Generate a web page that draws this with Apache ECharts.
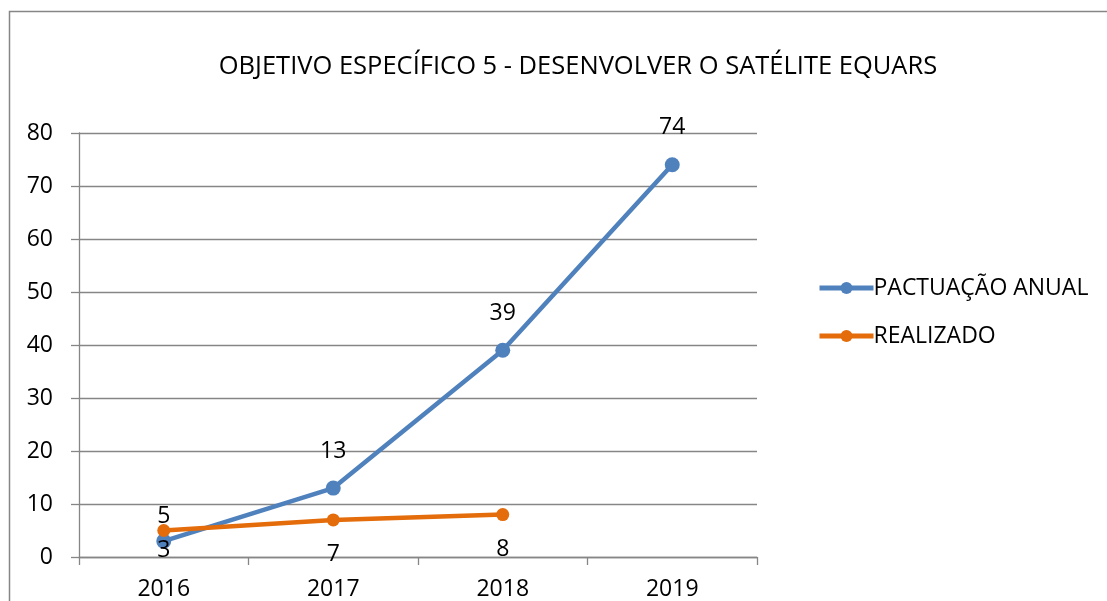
<!DOCTYPE html>
<html lang="pt">
<head>
    <meta charset="utf-8" />
    <title>Objetivo específico 5</title>
    <script type="text/javascript" src="https://cdn.jsdelivr.net/npm/echarts@6/dist/echarts.min.js"></script>
    <style type="text/css">
        html, body { margin: 0; padding: 0; background: #fff; }
    </style>
</head>
<body>
    <div id="main" style="width:1107px;height:601px;"></div>

    <script type="text/javascript">
        // dados
        var anos = ['2016', '2017', '2018', '2019'];
        var pactuacao = [3, 13, 39, 74];
        var realizado = [5, 7, 8, null];

        var tituloTexto = 'OBJETIVO ESPECÍFICO 5 - DESENVOLVER O SATÉLITE EQUARS';
        var fonte = '"Open Sans", "Noto Sans", sans-serif';

        var myChart = echarts.init(document.getElementById('main'));

        // primeiro ponto de cada série tem o rótulo do lado oposto
        var dadosPactuacao = pactuacao.map(function (v, i) {
            if (i == 0) return { value: v, label: { position: 'bottom', distance: -10 } };
            return v;
        });
        var dadosRealizado = realizado.map(function (v, i) {
            if (i == 0) return { value: v, label: { position: 'top', distance: -4 } };
            return v;
        });

        var option = {
            animation: false,
            backgroundColor: '#fff',
            textStyle: { fontFamily: fonte },
            title: {
                text: tituloTexto,
                left: 578,
                top: 54,
                padding: 0,
                textAlign: 'center',
                textStyle: { fontFamily: fonte, fontWeight: 'normal', fontSize: 25.5, color: '#000' }
            },
            graphic: [{
                type: 'rect',
                shape: { x: 9.5, y: 11.5, width: 1200, height: 700 },
                style: { fill: 'none', stroke: '#868686', lineWidth: 1.5 },
                silent: true
            }],
            legend: {
                orient: 'vertical',
                left: 817,
                top: 276,
                padding: 0,
                itemGap: 24,
                itemWidth: 54,
                itemHeight: 15,
                lineStyle: { width: 5 },
                data: ['PACTUAÇÃO ANUAL', 'REALIZADO'],
                textStyle: { fontFamily: fonte, fontSize: 23, lineHeight: 24, color: '#000', padding: [0, 0, 0, -5] }
            },
            grid: {
                left: 79,
                right: 350,
                top: 133,
                bottom: 44,
                containLabel: false
            },
            xAxis: {
                type: 'category',
                data: anos,
                boundaryGap: true,
                axisLine: { lineStyle: { color: '#868686', width: 1.3 } },
                axisTick: { show: true, length: 8, inside: false, alignWithLabel: false, lineStyle: { color: '#868686', width: 1.3 } },
                axisLabel: { color: '#000', fontSize: 23, margin: 21, fontFamily: fonte }
            },
            yAxis: {
                type: 'value',
                min: 0,
                max: 80,
                interval: 10,
                axisLine: { show: true, lineStyle: { color: '#868686', width: 1.3 } },
                axisTick: { show: true, length: 8, lineStyle: { color: '#868686', width: 1.3 } },
                axisLabel: { color: '#000', fontSize: 23, margin: 26, fontFamily: fonte },
                splitLine: { lineStyle: { color: '#868686', width: 1.3 } }
            },
            series: [{
                name: 'PACTUAÇÃO ANUAL',
                type: 'line',
                data: dadosPactuacao,
                color: '#4F81BD',
                symbol: 'circle',
                symbolSize: 15,
                lineStyle: { width: 4.5, color: '#4F81BD' },
                itemStyle: { color: '#4F81BD' },
                label: { show: true, position: 'top', distance: 18, color: '#000', fontSize: 23, fontFamily: fonte },
                z: 3
            }, {
                name: 'REALIZADO',
                type: 'line',
                data: dadosRealizado,
                color: '#E46C0A',
                symbol: 'circle',
                symbolSize: 13,
                lineStyle: { width: 4.5, color: '#E46C0A' },
                itemStyle: { color: '#E46C0A' },
                label: { show: true, position: 'bottom', distance: 17, color: '#000', fontSize: 23, fontFamily: fonte },
                z: 4
            }]
        };
        myChart.setOption(option, true);
    </script>
</body>
</html>
